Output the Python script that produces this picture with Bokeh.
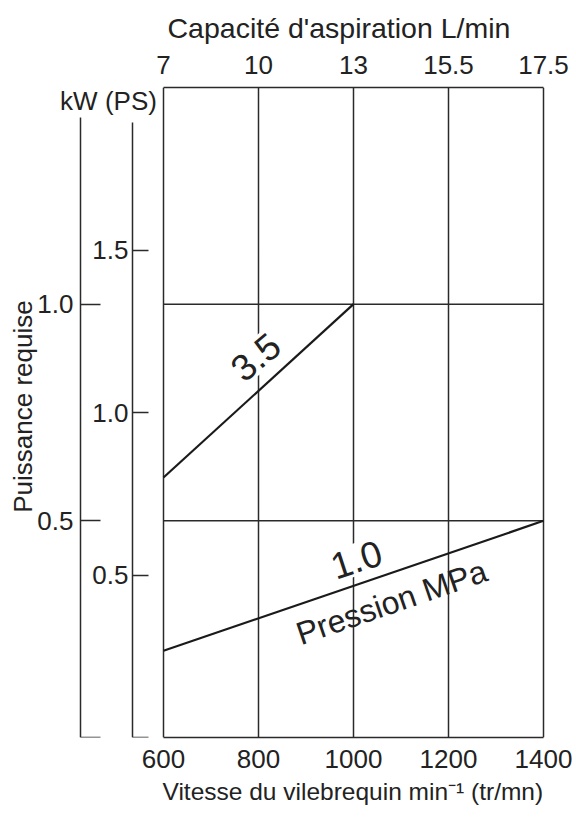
from bokeh.plotting import figure
from bokeh.models import (LinearAxis, Range1d, FixedTicker, Label, Title, ColumnDataSource)
from bokeh.core.properties import value
from bokeh.embed import file_html
from bokeh.resources import INLINE

# ---------------- data ----------------
rpm_ticks = [600, 800, 1000, 1200, 1400]
capacity_labels = ["7", "10", "13", "15.5", "17.5"]
kw_ticks = [0, 0.5, 1.0]
kw_tick_labels = ["", "0.5", "1.0"]
ps_ticks = [0, 0.5, 1.0, 1.5]
ps_tick_labels = ["", "0.5", "1.0", "1.5"]

rpm_35 = [600, 1000]
kw_35 = [0.60, 1.00]
rpm_10 = [600, 1400]
kw_10 = [0.20, 0.50]

pressure_labels = ["3.5", "1.0"]
unit_label = "Pression MPa"

# ---------------- layout ----------------
FONT = "Liberation Sans"
INK = "#222222"
LINE = "#2a2a2a"
X0, X1 = 600, 1400
KW0, KW1 = 0, 1.5
PS0, PS1 = 0, 2.0
BOX_LEFT = 163            # pixel position of the 600 rpm edge
BOX_TOP = 87
BOX_W, BOX_H = 380, 650
px_per_rpm = BOX_W / (X1 - X0)
px_per_kw = BOX_H / (KW1 - KW0)
RIGHT_PAD = 3             # keep the 1400 edge inside the frame


def rpm_at(px):
    return X0 + (px - BOX_LEFT) / px_per_rpm


def kw_at(py):
    return KW1 - (py - BOX_TOP) / px_per_kw


p = figure(frame_width=BOX_LEFT + BOX_W + RIGHT_PAD, frame_height=BOX_H,
           min_border_left=0, min_border_right=576 - (BOX_LEFT + BOX_W + RIGHT_PAD),
           min_border_top=BOX_TOP, min_border_bottom=818 - BOX_TOP - BOX_H,
           x_range=Range1d(rpm_at(0), rpm_at(BOX_LEFT + BOX_W + RIGHT_PAD)),
           y_range=Range1d(KW0, KW1),
           x_axis_location=None, y_axis_location=None,
           output_backend="svg", toolbar_location=None)
p.extra_y_ranges = {"ps": Range1d(PS0, PS1)}
p.background_fill_color = "white"
p.border_fill_color = "white"
p.outline_line_color = None

# vertical grid (the 600 and 1400 lines close the box)
p.xgrid.ticker = FixedTicker(ticks=rpm_ticks)
p.xgrid.grid_line_color = LINE
p.xgrid.grid_line_width = 1.5
p.xgrid.grid_line_alpha = 1.0
p.ygrid.visible = False


def style_axis(ax, size="26px"):
    ax.major_label_text_font = FONT
    ax.major_label_text_font_size = size
    ax.major_label_text_color = INK
    ax.axis_label_text_font = FONT
    ax.axis_label_text_font_style = "normal"
    ax.axis_label_text_color = INK
    ax.minor_tick_line_color = None
    ax.axis_line_color = LINE
    ax.axis_line_width = 1.5
    ax.major_tick_line_color = LINE
    ax.major_tick_line_width = 1.5


# bottom axis (its line is the bottom of the box)
bottom = LinearAxis(ticker=FixedTicker(ticks=rpm_ticks), bounds=(X0, X1))
style_axis(bottom)
bottom.major_tick_in = 0
bottom.major_tick_out = 0
bottom.major_label_standoff = 12
p.add_layout(bottom, "below")
p.add_layout(Title(text="Vitesse du vilebrequin min\u207b\u00b9 (tr/mn)", align="left",
                   offset=162, standoff=11, text_font=FONT, text_font_size="24.5px",
                   text_font_style="normal", text_color=INK), "below")

# top axis (its line is the top of the box)
top = LinearAxis(ticker=FixedTicker(ticks=rpm_ticks), bounds=(X0, X1),
                 major_label_overrides={t: s for t, s in zip(rpm_ticks, capacity_labels)})
style_axis(top)
top.major_tick_in = 0
top.major_tick_out = 0
top.major_label_standoff = 14
p.add_layout(top, "above")
p.add_layout(Title(text="Capacit\u00e9 d'aspiration L/min", align="left",
                   offset=167, standoff=18, text_font=FONT, text_font_size="28.5px",
                   text_font_style="normal", text_color=INK), "above")

# kW axis (outer)
kw_axis = LinearAxis(ticker=FixedTicker(ticks=kw_ticks),
                     major_label_overrides=dict(zip(kw_ticks, kw_tick_labels)),
                     fixed_location=rpm_at(80),
                     bounds=(0, kw_at(117)))
style_axis(kw_axis)
kw_axis.major_tick_in = 20
kw_axis.major_tick_out = 0
kw_axis.major_label_standoff = 7
p.add_layout(kw_axis, "left")

# PS axis (inner)
ps_axis = LinearAxis(y_range_name="ps", ticker=FixedTicker(ticks=ps_ticks),
                     major_label_overrides=dict(zip(ps_ticks, ps_tick_labels)),
                     fixed_location=rpm_at(132),
                     bounds=(0, kw_at(122) * (PS1 - PS0) / (KW1 - KW0)))
style_axis(ps_axis)
ps_axis.major_tick_in = 16
ps_axis.major_tick_out = 0
ps_axis.major_label_standoff = 4
p.add_layout(ps_axis, "left")

# axis titles on the left
p.add_layout(Label(x=rpm_at(108), y=kw_at(100), text="kW (PS)",
                   text_font=FONT, text_font_size="26px", text_color=INK,
                   text_align="center", text_baseline="middle"))
p.add_layout(Label(x=rpm_at(22), y=kw_at(406), text="Puissance requise",
                   angle=90, angle_units="deg",
                   text_font=FONT, text_font_size="26px", text_color=INK,
                   text_align="center", text_baseline="middle"))

# horizontal grid lines, only inside the box
kw_grid = kw_ticks[1:]
p.segment(x0=[X0] * len(kw_grid), x1=[X1] * len(kw_grid), y0=kw_grid, y1=kw_grid,
          line_color=LINE, line_width=1.5)

# curve labels (the white box masks the grid as in the print)
num_src = ColumnDataSource(dict(x=[794, 1006], y=[0.878, 0.411],
                                text=pressure_labels, angle=[40, 18]))
p.text(x="x", y="y", text="text", angle="angle", angle_units="deg", source=num_src,
       text_font=value(FONT), text_font_size="37px", text_color=INK,
       text_align="center", text_baseline="middle",
       background_fill_color="white", padding=3)
p.text(x=[1080], y=[0.312], text=[unit_label], angle=19, angle_units="deg",
       text_font=value(FONT), text_font_size="32px", text_color=INK,
       text_align="center", text_baseline="middle")

# curves
p.line(rpm_35, kw_35, line_color="#1a1a1a", line_width=2.2)
p.line(rpm_10, kw_10, line_color="#1a1a1a", line_width=2.2)

open("out.html", "w").write(file_html(p, INLINE))
